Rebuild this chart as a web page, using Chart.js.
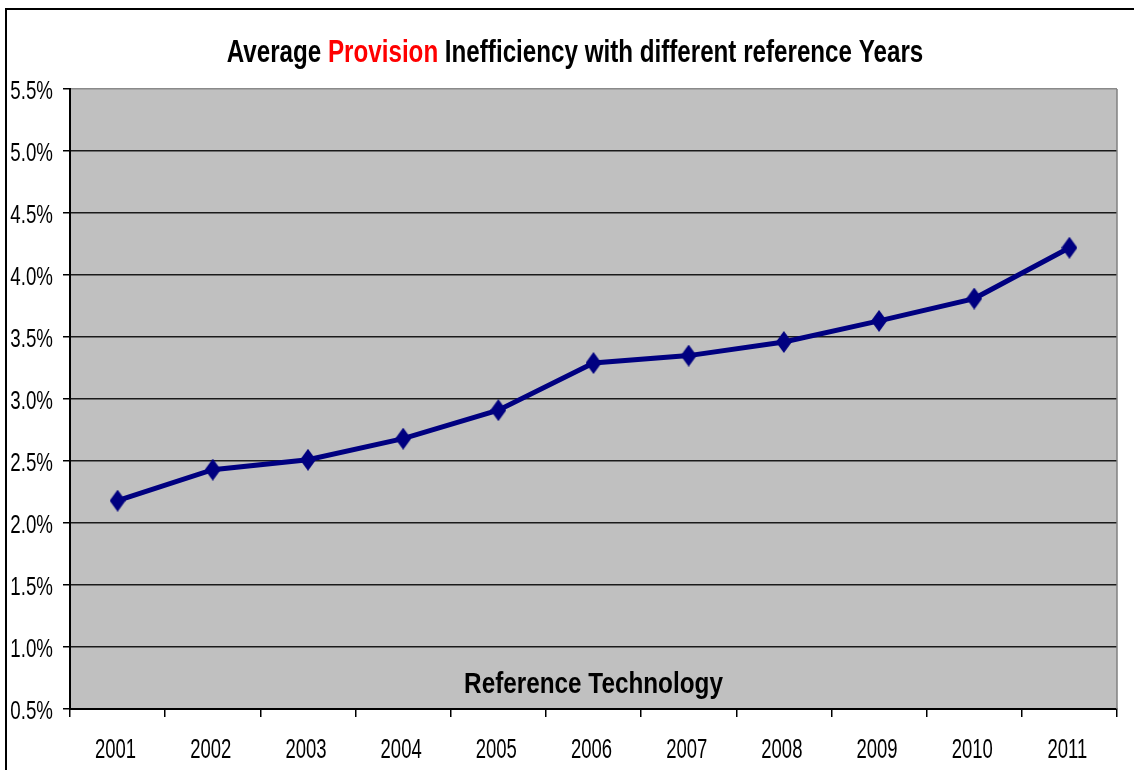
<!DOCTYPE html>
<html>
<head>
<meta charset="utf-8">
<script src="https://cdn.jsdelivr.net/npm/chart.js@4.4.1/dist/chart.umd.min.js"></script>
<style>
  html, body { margin: 0; padding: 0; background: #ffffff; }
  #wrap { width: 1134px; height: 770px; position: relative; }
</style>
</head>
<body>
<div id="wrap"><canvas id="c" width="1134" height="770"></canvas></div>
<script>
// ---- Data ----
const categories = ['2001','2002','2003','2004','2005','2006','2007','2008','2009','2010','2011'];
const inefficiency = [2.18, 2.43, 2.51, 2.68, 2.91, 3.29, 3.35, 3.46, 3.63, 3.81, 4.22];
const titleParts = [
  { text: 'Average ', color: '#000000' },
  { text: 'Provision', color: '#FF0000' },
  { text: ' Inefficiency with different reference Years', color: '#000000' }
];
const xAxisTitle = 'Reference Technology';
const yMin = 0.5, yMax = 5.5, yStep = 0.5;

const FONT = '"Liberation Sans", Arial, sans-serif';

// tall diamond marker
function makeDiamond(w, h, color) {
  const c = document.createElement('canvas');
  c.width = w; c.height = h;
  const g = c.getContext('2d');
  g.fillStyle = color;
  g.beginPath();
  g.moveTo(w / 2, 0);
  g.lineTo(w, h / 2);
  g.lineTo(w / 2, h);
  g.lineTo(0, h / 2);
  g.closePath();
  g.fill();
  return c;
}
const diamond = makeDiamond(16, 22, '#000080');

// draw horizontally condensed text (narrow face emulation)
function narrowText(ctx, text, x, y, sx, align) {
  ctx.save();
  ctx.translate(x, y);
  ctx.scale(sx, 1);
  ctx.textAlign = align;
  ctx.fillText(text, 0, 0);
  ctx.restore();
}

const decorPlugin = {
  id: 'decor',
  beforeDraw(chart) {
    const { ctx, chartArea: a } = chart;
    ctx.save();
    ctx.fillStyle = '#ffffff';
    ctx.fillRect(0, 0, chart.width, chart.height);
    // outer frame
    ctx.strokeStyle = '#000000';
    ctx.lineWidth = 2;
    ctx.strokeRect(6, 9, chart.width + 20, chart.height + 20);
    // plot background
    ctx.fillStyle = '#C0C0C0';
    ctx.fillRect(a.left, a.top, a.right - a.left, a.bottom - a.top);
    ctx.restore();
  },
  afterDatasetsDraw(chart) {
    const { ctx, chartArea: a } = chart;
    const xs = chart.scales.x, ys = chart.scales.y;
    ctx.save();
    // right border gray
    ctx.strokeStyle = '#808080';
    ctx.lineWidth = 1.5;
    ctx.beginPath();
    ctx.moveTo(a.right, a.top);
    ctx.lineTo(a.right, a.bottom);
    ctx.stroke();

    ctx.fillStyle = '#000000';
    ctx.textBaseline = 'alphabetic';
    // y tick labels
    ctx.font = '26px ' + FONT;
    ys.ticks.forEach(t => {
      const y = ys.getPixelForValue(t.value);
      narrowText(ctx, Number(t.value).toFixed(1) + '%', a.left - 17, y + 10, 0.72, 'right');
    });
    // x tick labels
    ctx.font = '28px ' + FONT;
    categories.forEach((c, i) => {
      const x = xs.getPixelForValue(i);
      narrowText(ctx, c, x - 2, a.bottom + 49, 0.66, 'center');
    });
    // x axis title inside plot
    ctx.font = 'bold 30px ' + FONT;
    narrowText(ctx, xAxisTitle, (a.left + a.right) / 2, a.bottom - 16, 0.81, 'center');

    // multi-colour title
    ctx.font = 'bold 31px ' + FONT;
    const sx = 0.78;
    let total = 0;
    titleParts.forEach(p => total += ctx.measureText(p.text).width * sx);
    let x = 575 - total / 2;
    titleParts.forEach(p => {
      ctx.fillStyle = p.color;
      narrowText(ctx, p.text, x, 62, sx, 'left');
      x += ctx.measureText(p.text).width * sx;
    });
    ctx.restore();
  }
};

new Chart(document.getElementById('c'), {
  type: 'line',
  data: {
    labels: categories,
    datasets: [{
      data: inefficiency,
      borderColor: '#000080',
      backgroundColor: '#000080',
      borderWidth: 5,
      pointStyle: diamond,
      pointRadius: 8,
      tension: 0,
      fill: false
    }]
  },
  plugins: [decorPlugin],
  options: {
    responsive: false,
    animation: false,
    devicePixelRatio: 1,
    layout: { padding: { top: 89, right: 17, left: 0, bottom: 0 } },
    plugins: {
      legend: { display: false },
      title: { display: false },
      tooltip: { enabled: false }
    },
    scales: {
      x: {
        type: 'category',
        offset: true,
        afterFit(scale) { scale.height = 61; },
        grid: {
          offset: true,
          drawOnChartArea: false,
          drawTicks: true,
          tickLength: 8,
          color: '#000000',
          tickColor: '#000000',
          lineWidth: 1.5
        },
        border: { display: true, color: '#000000', width: 2 },
        ticks: { display: false }
      },
      y: {
        min: yMin,
        max: yMax,
        afterFit(scale) { scale.width = 70; },
        grid: {
          drawOnChartArea: true,
          drawTicks: true,
          tickLength: 7,
          color: (c) => (c.tick && c.tick.value === yMax) ? '#8a8a8a' : '#1a1a1a',
          tickColor: '#000000',
          lineWidth: 1.5
        },
        border: { display: true, color: '#000000', width: 2 },
        ticks: { display: false, stepSize: yStep }
      }
    }
  }
});
</script>
</body>
</html>
